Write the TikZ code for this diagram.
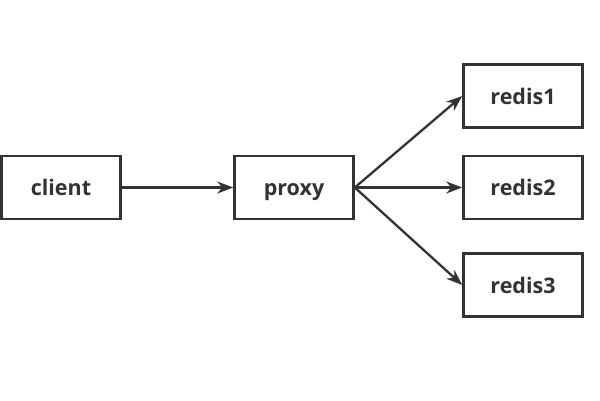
\documentclass[tikz,border=0pt]{standalone}
\usepackage{fontspec}
\setmainfont{Open Sans}
\usetikzlibrary{arrows.meta}
\definecolor{ink}{HTML}{333333}
\begin{document}
\begin{tikzpicture}[x=1pt,y=-1pt,
  box/.style={draw=ink,line width=2.6pt,fill=white,minimum width=119pt,minimum height=63pt,inner sep=0pt,
    text height=16pt,text depth=0pt,
    font=\fontsize{21.5}{24}\selectfont\bfseries,text=ink},
  conn/.style={draw=ink,line width=2.3pt,-{Stealth[length=16pt,width=12pt]}}]
\useasboundingbox (0,0) rectangle (600,400);
\fill[white] (0,0) rectangle (600,400);
\node[box] (client) at (61,187.5) {client};
\node[box] (proxy) at (294,187.5) {proxy};
\node[box] (r1) at (523,96) {redis1};
\node[box] (r2) at (523,187.5) {redis2};
\node[box] (r3) at (523,285) {redis3};
\draw[conn] (client) -- (proxy);
\draw[conn] (proxy.east) -- (r1.west);
\draw[conn] (proxy.east) -- (r2.west);
\draw[conn] (proxy.east) -- (r3.west);
\end{tikzpicture}
\end{document}
